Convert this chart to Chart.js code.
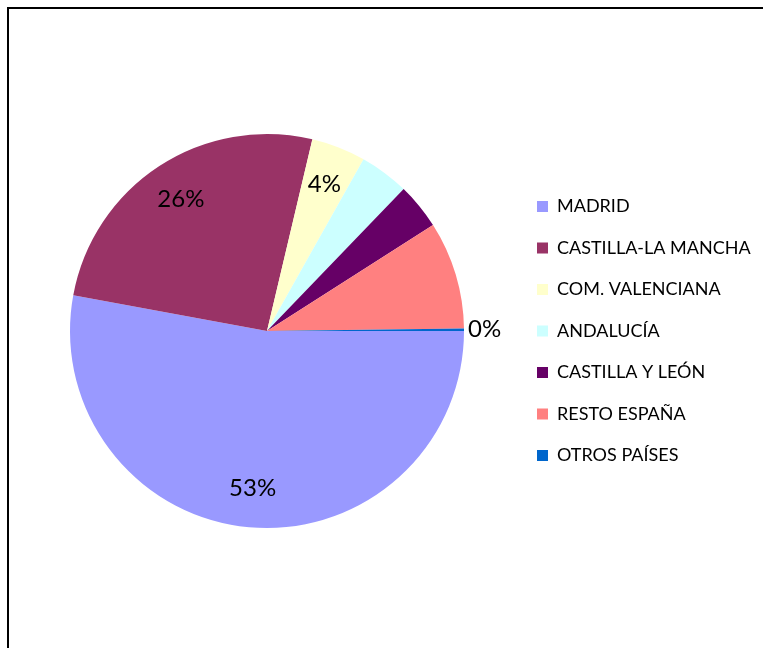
<!DOCTYPE html>
<html>
<head>
<meta charset="utf-8">
<script src="https://cdn.jsdelivr.net/npm/chart.js@4.4.1/dist/chart.umd.min.js"></script>
<style>
  html, body { margin: 0; padding: 0; background: #fff; overflow: hidden; }
  canvas { display: block; }
</style>
</head>
<body>
<canvas id="myChart" width="763" height="648"></canvas>
<script>
// datos (porcentaje por procedencia)
const regions = ["MADRID", "CASTILLA-LA MANCHA", "COM. VALENCIANA", "ANDALUCÍA", "CASTILLA Y LEÓN", "RESTO ESPAÑA", "OTROS PAÍSES"];
const shares = [52.9, 25.8, 4.45, 4.05, 3.75, 8.85, 0.2];
const colors = ["#9999FF", "#993366", "#FFFFCC", "#CCFFFF", "#660066", "#FF8080", "#0066CC"];
// qué etiquetas de porcentaje se ven, y cuáles van fuera de la tarta
const showPct = [true, true, true, false, false, false, true];
const outsidePct = [false, false, false, false, false, false, true];

const fontFamily = "Lato";
const legendSize = 18;
const legendPad = 23.5;
const boxSize = 11;

// medir el texto más largo para colocar la leyenda donde está en el original
const m = document.createElement("canvas").getContext("2d");
m.font = `${legendSize}px ${fontFamily}`;
const widest = Math.max(...regions.map(t => m.measureText(t).width));
const legendLeft = 537 - legendPad;
const legendWidth = legendPad + boxSize + legendSize / 2 + widest + 10;
const padRight = 763 - legendLeft - legendWidth;
const padLeft = 2 * 267 - legendLeft;

// marco del gráfico (sólo se ven los bordes superior e izquierdo)
const frame = {
  id: "frame",
  beforeDraw(chart) {
    const c = chart.ctx;
    c.save();
    c.strokeStyle = "#000";
    c.lineWidth = 2;
    c.beginPath();
    c.moveTo(8, chart.height + 5);
    c.lineTo(8, 8);
    c.lineTo(chart.width + 5, 8);
    c.stroke();
    c.restore();
  }
};

const pctLabels = {
  id: "pctLabels",
  afterDatasetsDraw(chart) {
    const c = chart.ctx;
    const meta = chart.getDatasetMeta(0);
    const total = shares.reduce((a, b) => a + b, 0);
    c.save();
    c.font = `24px ${fontFamily}`;
    c.fillStyle = "#000";
    c.textBaseline = "middle";
    meta.data.forEach((arc, i) => {
      if (!showPct[i]) return;
      const p = arc.getProps(["x", "y", "startAngle", "endAngle", "outerRadius"], true);
      const mid = (p.startAngle + p.endAngle) / 2;
      const text = Math.round(shares[i] / total * 100) + "%";
      let r;
      if (outsidePct[i]) {
        c.textAlign = "left";
        r = p.outerRadius + 4;
      } else {
        c.textAlign = "center";
        r = p.outerRadius * 0.8;
      }
      c.fillText(text, p.x + r * Math.cos(mid), p.y + r * Math.sin(mid));
    });
    c.restore();
  }
};

const ctx = document.getElementById("myChart").getContext("2d");
new Chart(ctx, {
  type: "pie",
  data: {
    labels: regions,
    datasets: [{
      data: shares,
      backgroundColor: colors,
      borderWidth: 0
    }]
  },
  options: {
    responsive: false,
    animation: false,
    rotation: 90,
    radius: 197,
    layout: {
      padding: { left: padLeft, right: padRight, top: 14, bottom: 0 }
    },
    plugins: {
      tooltip: { enabled: false },
      legend: {
        position: "right",
        labels: {
          boxWidth: boxSize,
          boxHeight: boxSize,
          padding: legendPad,
          color: "#000",
          font: { family: fontFamily, size: legendSize }
        }
      }
    }
  },
  plugins: [frame, pctLabels]
});
</script>
</body>
</html>
